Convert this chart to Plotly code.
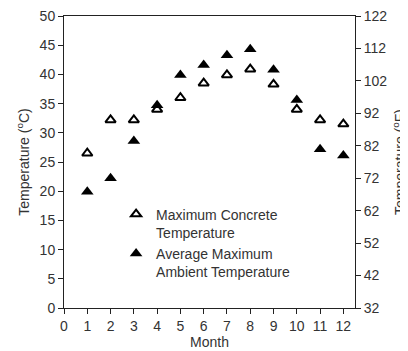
import plotly.graph_objects as go

months = [1, 2, 3, 4, 5, 6, 7, 8, 9, 10, 11, 12]
concrete_c = [26.5, 32.2, 32.2, 34.0, 36.0, 38.5, 39.9, 40.9, 38.3, 34.0, 32.2, 31.5]
ambient_c = [19.9, 22.2, 28.6, 34.7, 39.9, 41.6, 43.3, 44.3, 40.8, 35.6, 27.2, 26.1]
x_ticks = list(range(0, 13))
y_ticks_c = list(range(0, 51, 5))
y_ticks_f = list(range(32, 123, 10))

font = "Liberation Sans, Arial, sans-serif"
axcol = "#222222"
txtcol = "#333333"

fig = go.Figure()
fig.add_trace(go.Scatter(
    x=months, y=concrete_c, mode="markers",
    name="Maximum Concrete<br>Temperature",
    marker=dict(symbol="triangle-up-open", size=9, color="black", line=dict(width=2, color="black")),
))
fig.add_trace(go.Scatter(
    x=months, y=ambient_c, mode="markers",
    name="Average Maximum<br>Ambient Temperature",
    marker=dict(symbol="triangle-up", size=11, color="black"),
))
# invisible trace for the Fahrenheit axis
fig.add_trace(go.Scatter(x=[None], y=[None], yaxis="y2", showlegend=False, hoverinfo="skip"))

# the page body has an 8px margin, so the figure is drawn 8px in from the top-left
fig.update_layout(
    template="none",
    width=400, height=343,
    margin=dict(l=56, r=53, t=8, b=43, autoexpand=False),
    paper_bgcolor="white", plot_bgcolor="white",
    font=dict(family=font, size=14, color=txtcol),
    showlegend=True,
    legend=dict(x=0.179, y=0.375, xanchor="left", yanchor="top", valign="top",
                bgcolor="rgba(0,0,0,0)", font=dict(size=14, color=txtcol),
                tracegroupgap=19, itemwidth=30),
    xaxis=dict(range=[0, 12.5], tickvals=x_ticks, showgrid=False, zeroline=False,
               automargin=False, ticklabeloverflow="allow",
               showline=True, linecolor=axcol, linewidth=1, mirror=True,
               ticks="outside", ticklen=5, tickcolor=axcol,
               title=dict(text="Month", standoff=0, font=dict(size=14))),
    yaxis=dict(range=[0, 50], tickvals=y_ticks_c, showgrid=False, zeroline=False,
               automargin=False, ticklabeloverflow="allow",
               showline=True, linecolor=axcol, linewidth=1,
               ticks="outside", ticklen=5, tickcolor=axcol,
               title=dict(text="Temperature (<sup>o</sup>C)", standoff=6, font=dict(size=14))),
    yaxis2=dict(range=[32, 122], tickvals=y_ticks_f, overlaying="y", side="right",
                showgrid=False, zeroline=False, automargin=False, ticklabeloverflow="allow",
                showline=True, linecolor=axcol, linewidth=1,
                ticks="outside", ticklen=5, tickcolor=axcol,
                title=dict(text="Temperature (<sup>o</sup>F)", standoff=8, font=dict(size=14))),
)

fig.write_html("out.html")
